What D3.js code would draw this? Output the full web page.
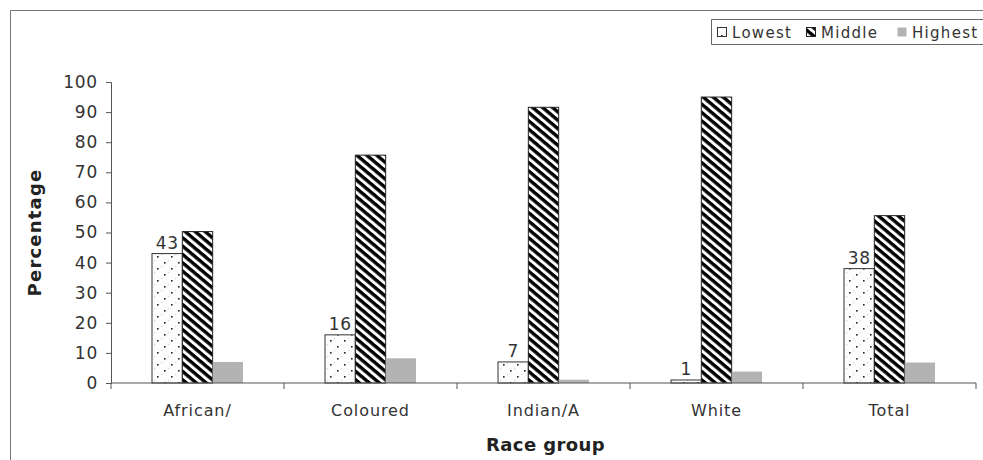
<!DOCTYPE html>
<html>
<head>
<meta charset="utf-8">
<script src="https://cdn.jsdelivr.net/npm/d3@7"></script>
<style>
  html, body { margin: 0; padding: 0; background: #fff; }
  svg { display: block; font-family: "DejaVu Sans", "Open Sans", sans-serif; }
</style>
</head>
<body>
<svg id="chart" width="983" height="460"></svg>
<script>
// Share of each race group falling in the lowest, middle and highest band (%)
const categories = ["African/", "Coloured", "Indian/A", "White", "Total"];
const seriesNames = ["Lowest", "Middle", "Highest"];
const lowest  = [43, 16, 7, 1, 38];
const middle  = [50.3, 75.7, 91.6, 95, 55.6];
const highest = [7, 8.2, 1.1, 3.8, 6.8];
const yTicks = [0, 10, 20, 30, 40, 50, 60, 70, 80, 90, 100];
const labelledSeries = "Lowest";

const seriesValues = { Lowest: lowest, Middle: middle, Highest: highest };

const svg = d3.select("#chart");
const W = 983, H = 460;
const plot = { left: 111, right: 976, top: 82, bottom: 383 };
const FONT = "'DejaVu Sans', 'Open Sans', sans-serif";

// Fill patterns: dotted, diagonal stripes, solid grey
const defs = svg.append("defs");
const dots = defs.append("pattern")
  .attr("id", "pat-lowest").attr("patternUnits", "userSpaceOnUse")
  .attr("width", 14).attr("height", 12);
dots.append("rect").attr("width", 14).attr("height", 12).attr("fill", "#fdfdfd");
dots.append("rect").attr("x", 4).attr("y", 4).attr("width", 1.6).attr("height", 1.6).attr("fill", "#222");
dots.append("rect").attr("x", 11).attr("y", 10).attr("width", 1.6).attr("height", 1.6).attr("fill", "#222");
dots.append("rect").attr("x", 1).attr("y", 8).attr("width", 1.2).attr("height", 1.2).attr("fill", "#d4d4d4");
dots.append("rect").attr("x", 8).attr("y", 2).attr("width", 1.2).attr("height", 1.2).attr("fill", "#d4d4d4");

const stripes = defs.append("pattern")
  .attr("id", "pat-middle").attr("patternUnits", "userSpaceOnUse")
  .attr("width", 6.4).attr("height", 6.4)
  .attr("patternTransform", "rotate(40)");
stripes.append("rect").attr("width", 6.4).attr("height", 6.4).attr("fill", "#fff");
stripes.append("rect").attr("width", 6.4).attr("height", 3.4).attr("fill", "#000");

const fills = { Lowest: "url(#pat-lowest)", Middle: "url(#pat-middle)", Highest: "#b3b3b3" };
const strokes = { Lowest: "#333", Middle: "#222", Highest: "none" };

// Outer frame (top and left edges)
svg.append("line").attr("x1", 10.5).attr("x2", W).attr("y1", 10.5).attr("y2", 10.5)
  .attr("stroke", "#777").attr("stroke-width", 1);
svg.append("line").attr("x1", 10.5).attr("x2", 10.5).attr("y1", 10.5).attr("y2", H)
  .attr("stroke", "#777").attr("stroke-width", 1);

// Scales
const x0 = d3.scaleBand().domain(categories).range([plot.left, plot.right]).padding(0);
const groupWidth = 91;
const x1 = d3.scaleBand().domain(seriesNames)
  .range([(x0.bandwidth() - groupWidth) / 2, (x0.bandwidth() + groupWidth) / 2]).padding(0);
const y = d3.scaleLinear().domain([0, 100]).range([plot.bottom, plot.top]);

// Bars
const groups = svg.append("g").selectAll("g")
  .data(categories).join("g")
  .attr("transform", d => `translate(${x0(d)},0)`);

groups.selectAll("rect")
  .data((c, i) => seriesNames.map(s => ({ series: s, value: seriesValues[s][i] })))
  .join("rect")
  .attr("x", d => x1(d.series))
  .attr("y", d => y(d.value))
  .attr("width", x1.bandwidth())
  .attr("height", d => y(0) - y(d.value))
  .attr("fill", d => fills[d.series])
  .attr("stroke", d => strokes[d.series])
  .attr("stroke-width", 1);

// Value labels above the lowest-band bars
groups.append("text")
  .attr("x", x1(labelledSeries) + x1.bandwidth() / 2)
  .attr("y", (c, i) => y(seriesValues[labelledSeries][i]) - 5)
  .attr("text-anchor", "middle")
  .attr("font-size", 17)
  .attr("letter-spacing", 0.5)
  .attr("fill", "#333")
  .text((c, i) => seriesValues[labelledSeries][i]);

// Y axis
const yAxis = svg.append("g")
  .attr("transform", `translate(${plot.left},0)`)
  .call(d3.axisLeft(y).tickValues(yTicks).tickSize(5).tickPadding(8).tickFormat(d3.format("d")));
yAxis.select(".domain").attr("stroke", "#555");
yAxis.selectAll(".tick line").attr("stroke", "#555");
yAxis.selectAll(".tick text").attr("font-size", 17).attr("fill", "#333")
  .attr("letter-spacing", 0.8)
  .attr("font-family", FONT);

// X axis with ticks on band boundaries
const xAxis = svg.append("g").attr("transform", `translate(0,${plot.bottom})`);
xAxis.append("line").attr("x1", plot.left).attr("x2", plot.right)
  .attr("stroke", "#555");
const boundaries = categories.map(c => x0(c)).concat([plot.right]);
xAxis.selectAll("line.bound").data(boundaries).join("line")
  .attr("class", "bound")
  .attr("x1", d => d).attr("x2", d => d).attr("y1", 0).attr("y2", 6)
  .attr("stroke", "#555");
xAxis.selectAll("text").data(categories).join("text")
  .attr("x", d => x0(d) + x0.bandwidth() / 2)
  .attr("y", 33)
  .attr("text-anchor", "middle")
  .attr("font-size", 16)
  .attr("letter-spacing", 0.9)
  .attr("fill", "#333")
  .text(d => d);

// Axis titles
svg.append("text")
  .attr("transform", `translate(41,${(plot.top + plot.bottom) / 2}) rotate(-90)`)
  .attr("text-anchor", "middle")
  .attr("font-size", 18).attr("font-weight", "bold").attr("fill", "#222")
  .attr("letter-spacing", 1.2)
  .text("Percentage");
svg.append("text")
  .attr("x", (plot.left + plot.right) / 2 + 2)
  .attr("y", 451)
  .attr("text-anchor", "middle")
  .attr("font-size", 18).attr("font-weight", "bold").attr("fill", "#222")
  .attr("letter-spacing", 0.4)
  .text("Race group");

// Legend
const legend = svg.append("g").attr("transform", "translate(711,19)");
legend.append("path").attr("d", `M${W},0.5 H0.5 V25.5 H${W}`)
  .attr("fill", "#fff").attr("stroke", "#666");
const legendX = [6, 95, 186];
const items = legend.selectAll("g.item").data(seriesNames).join("g")
  .attr("class", "item")
  .attr("transform", (d, i) => `translate(${legendX[i]},0)`);
items.append("rect")
  .attr("x", 0.5).attr("y", 8.5).attr("width", 9).attr("height", 9)
  .attr("fill", d => fills[d]).attr("stroke", d => strokes[d]);
items.append("text")
  .attr("x", 15).attr("y", 18.5)
  .attr("font-size", 15).attr("fill", "#333")
  .attr("letter-spacing", 1.3)
  .text(d => d);
</script>
</body>
</html>
